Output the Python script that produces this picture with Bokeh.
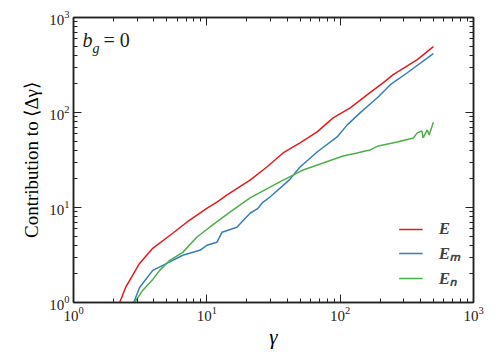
from bokeh.plotting import figure
from bokeh.models import LogAxis, LogTicker, Legend, LegendItem, Label, CustomJSTickFormatter
from bokeh.embed import file_html
from bokeh.resources import INLINE

gamma_E = [2.1, 2.22, 2.46, 3.13, 3.93, 5.55, 7.07, 10, 11.9, 14.1, 21.1, 28.2, 37.3, 50, 67.2, 88.6, 119, 160, 211, 250, 379, 500]
E_tot = [0.85, 1.0, 1.44, 2.58, 3.72, 5.36, 7.0, 9.8, 11.4, 13.5, 19.4, 26.7, 37.5, 47.8, 62.5, 87.9, 112, 154, 206, 250, 360, 494]

gamma_Em = [2.75, 2.83, 3.13, 3.93, 4.67, 6.6, 8.86, 10, 11.9, 13, 16.8, 21.1, 24.2, 26.4, 29.8, 41.4, 50, 67.2, 94.9, 113, 141, 190, 238, 319, 500]
E_m = [0.85, 1.0, 1.44, 2.18, 2.46, 3.14, 3.54, 4.0, 4.3, 5.5, 6.2, 8.7, 9.8, 11.4, 12.9, 19.4, 26.7, 38.4, 55.3, 74.1, 99.2, 143, 196, 262, 417]

gamma_En = [2.8, 2.87, 3.30, 3.93, 4.43, 5.27, 6.6, 8.4, 10.5, 14.9, 21.1, 37.3, 44.4, 52.7, 74.5, 105, 134, 154, 165, 193, 268, 354, 379, 410, 419, 450, 465, 500]
E_n = [0.9, 1.0, 1.34, 1.75, 2.18, 2.78, 3.37, 4.86, 6.2, 8.93, 12.6, 19.4, 21.9, 24.8, 29.4, 34.8, 37.5, 39.4, 40, 44.5, 49, 54, 61, 64, 54, 65.5, 58, 79]

labels = ["E", "E\u2098", "E\u2099"]
colors = ["#e41a1c", "#377eb8", "#4daf4a"]

SERIF = "Liberation Serif"
TXT = "#222222"

p = figure(width=490, height=352, x_axis_type="log", y_axis_type="log",
           x_range=(1, 1000), y_range=(1, 1000),
           output_backend="svg", toolbar_location=None,
           min_border_left=73, min_border_right=17, min_border_top=17, min_border_bottom=50)
p.grid.visible = False
p.outline_line_color = TXT
p.outline_line_width = 1.5
p.background_fill_color = "white"
p.border_fill_color = "white"

r1 = p.line(gamma_E, E_tot, line_color=colors[0], line_width=1.5)
r2 = p.line(gamma_Em, E_m, line_color=colors[1], line_width=1.5)
r3 = p.line(gamma_En, E_n, line_color=colors[2], line_width=1.5)

for ax in (p.xaxis[0], p.yaxis[0]):
    ax.ticker = LogTicker(desired_num_ticks=4, num_minor_ticks=10)
    ax.major_tick_in = 8
    ax.major_tick_out = 0
    ax.minor_tick_in = 4
    ax.minor_tick_out = 0
    ax.axis_line_color = TXT
    ax.axis_line_width = 1.5
    ax.major_tick_line_color = TXT
    ax.minor_tick_line_color = TXT
    ax.major_label_text_font = SERIF
    ax.major_label_text_font_size = "15px"
    ax.major_label_text_color = TXT
    ax.axis_label_text_font = SERIF
    ax.axis_label_text_color = "black"

p.xaxis[0].axis_label = "\u03b3"
p.xaxis[0].axis_label_text_font_style = "italic"
p.xaxis[0].axis_label_text_font_size = "21px"
p.xaxis[0].axis_label_standoff = 1
p.xaxis[0].major_label_standoff = 4

p.yaxis[0].axis_label = "Contribution to \u27e8\u0394\u03b3\u27e9"
p.yaxis[0].axis_label_text_font_style = "normal"
p.yaxis[0].axis_label_text_font_size = "19px"
p.yaxis[0].axis_label_standoff = 4
p.yaxis[0].major_label_standoff = 4

for loc in ("above", "right"):
    ax = LogAxis(ticker=LogTicker(desired_num_ticks=4, num_minor_ticks=10),
                 formatter=CustomJSTickFormatter(code="return ''"))
    ax.major_label_standoff = 0
    ax.major_tick_in = 8
    ax.major_tick_out = 0
    ax.minor_tick_in = 4
    ax.minor_tick_out = 0
    ax.axis_line_color = TXT
    ax.axis_line_width = 1.5
    ax.major_tick_line_color = TXT
    ax.minor_tick_line_color = TXT
    p.add_layout(ax, loc)

legend = Legend(items=[LegendItem(label=labels[i], renderers=[r]) for i, r in enumerate([r1, r2, r3])],
                location="bottom_right", border_line_color=None, background_fill_alpha=0,
                label_text_font=SERIF, label_text_font_style="bold italic",
                label_text_font_size="17px", glyph_width=24, glyph_height=20,
                label_height=20, label_standoff=16, spacing=2, padding=0, margin=13)
p.add_layout(legend)

p.add_layout(Label(x=9, y=252, x_units="screen", y_units="screen", text="b",
                   text_font=SERIF, text_font_style="italic", text_font_size="20px", text_color=TXT))
p.add_layout(Label(x=19, y=247, x_units="screen", y_units="screen", text="g",
                   text_font=SERIF, text_font_style="italic", text_font_size="14px", text_color=TXT))
p.add_layout(Label(x=30, y=252, x_units="screen", y_units="screen", text="= 0",
                   text_font=SERIF, text_font_size="20px", text_color=TXT))

open("out.html", "w").write(file_html(p, INLINE))
